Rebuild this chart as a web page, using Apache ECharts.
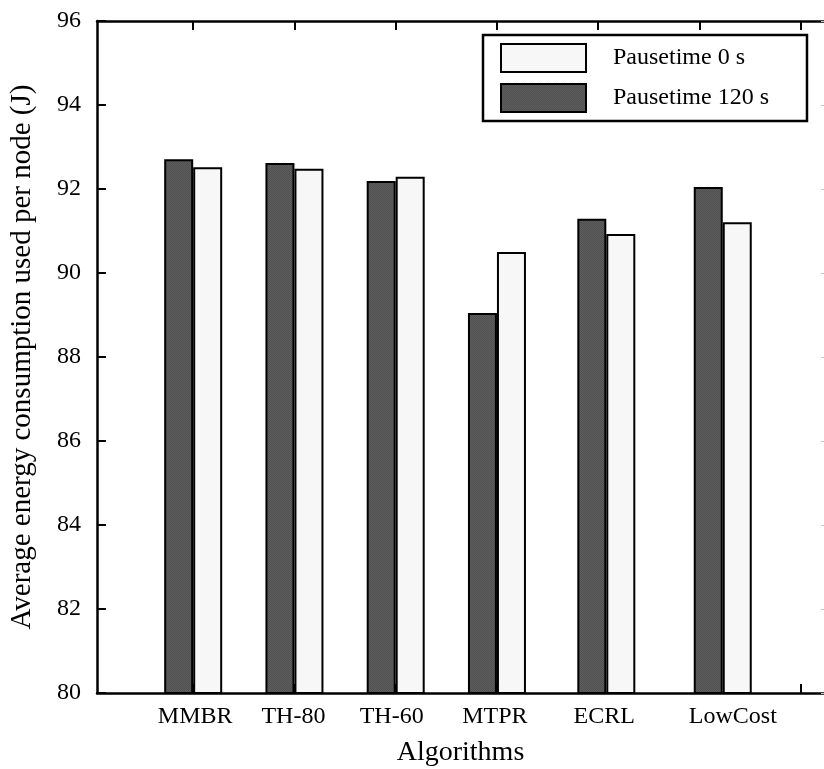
<!DOCTYPE html>
<html>
<head>
<meta charset="utf-8">
<script src="https://cdn.jsdelivr.net/npm/echarts@6/dist/echarts.min.js"></script>
<style>
  html, body { margin: 0; padding: 0; background: #fff; }
  #chart { width: 824px; height: 769px; }
</style>
</head>
<body>
<div id="chart"></div>
<script>
// algorithms on the x axis
var categories = ['MMBR', 'TH-80', 'TH-60', 'MTPR', 'ECRL', 'LowCost'];
// where each pair of bars sits on the x scale, and where its name is written
var groupPos = [1, 2, 3, 4, 5.08, 6.23];
var labelPos = [1.02, 1.99, 2.96, 3.98, 5.06, 6.33];
var xTicks = [1, 2, 3, 4, 5, 6, 7];
// average energy per node (J)
var pause0 = [92.52, 92.48, 92.29, 90.50, 90.93, 91.21];
var pause120 = [92.71, 92.62, 92.19, 89.05, 91.29, 92.05];
var yMin = 80, yMax = 96, yStep = 2;

var FONT = 'Liberation Serif';

// fine checkered fill for the dark bars
function darkPattern() {
    var c = document.createElement('canvas');
    c.width = 2; c.height = 2;
    var g = c.getContext('2d');
    g.fillStyle = '#5e5e5e'; g.fillRect(0, 0, 2, 2);
    g.fillStyle = '#505050'; g.fillRect(0, 0, 1, 1); g.fillRect(1, 1, 1, 1);
    return { image: c, repeat: 'repeat' };
}

function pairs(vals) {
    var out = [];
    for (var i = 0; i < vals.length; i++) out.push([groupPos[i], vals[i]]);
    return out;
}

var myChart = echarts.init(document.getElementById('chart'));
var option = {
    backgroundColor: '#fff',
    animation: false,
    textStyle: { fontFamily: FONT, color: '#000' },
    grid: { left: 97, top: 21, right: 0, bottom: 76, outerBoundsMode: 'none', containLabel: false },
    legend: {
        data: ['Pausetime 0 s', 'Pausetime 120 s'],
        orient: 'vertical',
        left: 483,
        top: 35,
        padding: [8, 38, 8, 17],
        itemWidth: 85,
        itemHeight: 28,
        itemGap: 10,
        icon: 'rect',
        backgroundColor: '#fff',
        borderColor: '#000',
        borderWidth: 2.5,
        itemStyle: { borderColor: '#000', borderWidth: 2 },
        textStyle: { fontFamily: FONT, fontSize: 24, color: '#000', padding: [0, 0, 0, 22] },
        z: 10
    },
    xAxis: [{
        type: 'value',
        position: 'bottom',
        min: 0.05,
        max: 7.23,
        name: 'Algorithms',
        nameLocation: 'middle',
        nameGap: 46,
        nameTextStyle: { fontFamily: FONT, fontSize: 28, color: '#000' },
        axisLine: { show: true, lineStyle: { color: '#000', width: 2.5 } },
        axisTick: { show: true, inside: true, length: 9, customValues: xTicks, lineStyle: { color: '#000', width: 2 } },
        axisLabel: {
            show: true,
            customValues: labelPos,
            margin: 12,
            fontFamily: FONT,
            fontSize: 24,
            color: '#000',
            formatter: function (v) {
                for (var i = 0; i < labelPos.length; i++) {
                    if (Math.abs(labelPos[i] - v) < 1e-6) return categories[i];
                }
                return '';
            }
        },
        splitLine: { show: false }
    }, {
        type: 'value',
        position: 'top',
        min: 0.05,
        max: 7.23,
        axisLine: { show: true, lineStyle: { color: '#000', width: 2.5 } },
        axisTick: { show: true, inside: true, length: 9, customValues: xTicks, lineStyle: { color: '#000', width: 2 } },
        axisLabel: { show: false },
        splitLine: { show: false }
    }],
    yAxis: [{
        type: 'value',
        position: 'left',
        min: yMin,
        max: yMax,
        interval: yStep,
        name: 'Average energy consumption used per node (J)',
        nameLocation: 'middle',
        nameGap: 60,
        nameTextStyle: { fontFamily: FONT, fontSize: 29, color: '#000' },
        axisLine: { show: true, lineStyle: { color: '#000', width: 2.5 } },
        axisTick: { show: true, inside: true, length: 9, lineStyle: { color: '#000', width: 2 } },
        axisLabel: { margin: 16, fontFamily: FONT, fontSize: 24, color: '#000' },
        splitLine: { show: false }
    }, {
        type: 'value',
        position: 'right',
        min: yMin,
        max: yMax,
        interval: yStep,
        axisLine: { show: false },
        axisTick: { show: true, inside: true, length: 3, lineStyle: { color: '#c8c8c8', width: 1 } },
        axisLabel: { show: false },
        splitLine: { show: false }
    }],
    series: [{
        name: 'Pausetime 120 s',
        type: 'bar',
        xAxisIndex: 0,
        yAxisIndex: 0,
        barWidth: 29,
        barGap: '0%',
        data: pairs(pause120),
        itemStyle: { color: darkPattern(), borderColor: '#000', borderWidth: 2 }
    }, {
        name: 'Pausetime 0 s',
        type: 'bar',
        xAxisIndex: 0,
        yAxisIndex: 0,
        barWidth: 29,
        barGap: '0%',
        data: pairs(pause0),
        itemStyle: { color: '#f7f7f7', borderColor: '#000', borderWidth: 2 }
    }]
};
myChart.setOption(option);
</script>
</body>
</html>
